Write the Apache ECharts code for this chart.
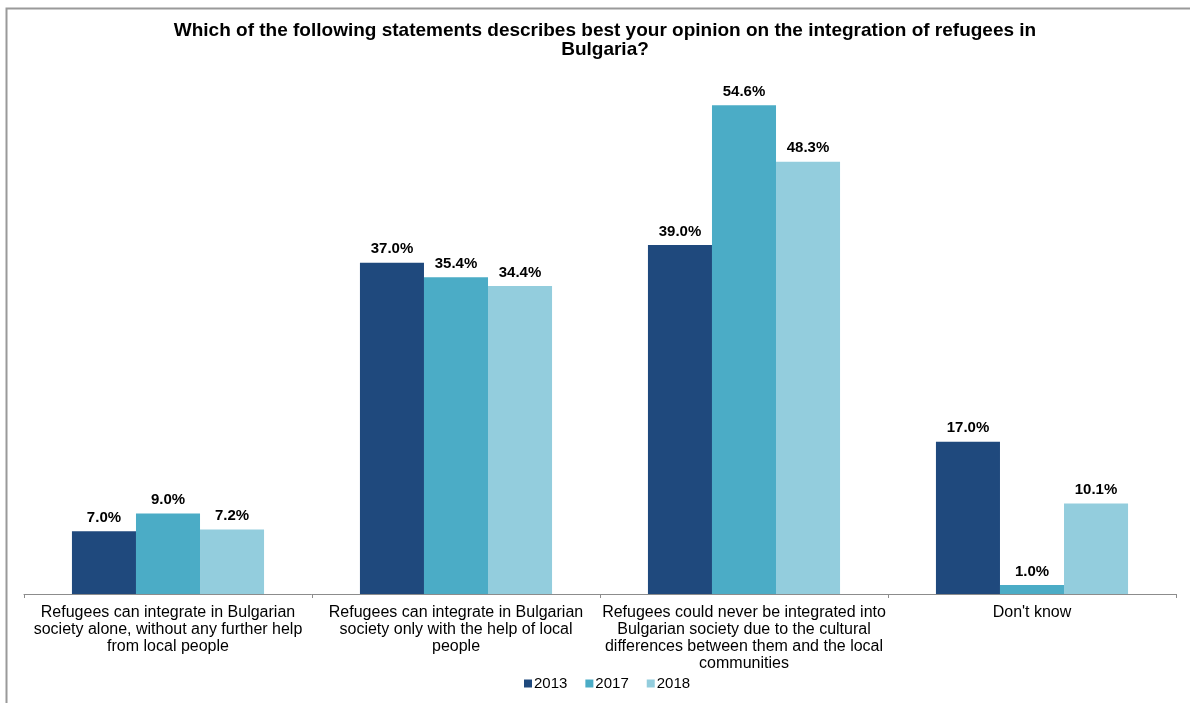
<!DOCTYPE html>
<html>
<head>
<meta charset="utf-8">
<script src="https://cdn.jsdelivr.net/npm/echarts@6/dist/echarts.min.js"></script>
<style>
  html, body { margin: 0; padding: 0; background: #fff; }
  #chart { width: 1190px; height: 703px; }
</style>
</head>
<body>
<div id="chart"></div>
<script>
// categories are pre-wrapped the way the original axis labels break
const categories = [
  'Refugees can integrate in Bulgarian\nsociety alone, without any further help\nfrom local people',
  'Refugees can integrate in Bulgarian\nsociety only with the help of local\npeople',
  'Refugees could never be integrated into\nBulgarian society due to the cultural\ndifferences between them and the local\ncommunities',
  "Don't know"
];
const years = ['2013', '2017', '2018'];
const values2013 = [7.0, 37.0, 39.0, 17.0];
const values2017 = [9.0, 35.4, 54.6, 1.0];
const values2018 = [7.2, 34.4, 48.3, 10.1];

const colors = ['#1f497d', '#4bacc6', '#93cddd'];
const font = 'Arial, "Liberation Sans", sans-serif';

const chart = echarts.init(document.getElementById('chart'));

function makeSeries(name, data, color) {
  return {
    name: name,
    type: 'bar',
    data: data,
    barGap: '0%',
    barCategoryGap: '33.3%',
    itemStyle: { color: color },
    label: {
      show: true,
      position: 'top',
      distance: 6,
      fontFamily: font,
      fontSize: 15,
      fontWeight: 'bold',
      color: '#000',
      formatter: p => p.value.toFixed(1) + '%'
    }
  };
}

const option = {
  animation: false,
  backgroundColor: '#fff',
  title: {
    text: 'Which of the following statements describes best your opinion on the integration of refugees in\nBulgaria?',
    left: 600,
    textAlign: 'center',
    top: 16,
    textStyle: {
      fontFamily: font,
      fontSize: 19,
      fontWeight: 'bold',
      color: '#000',
      lineHeight: 19
    }
  },
  graphic: [{
    type: 'rect',
    shape: { x: 6.5, y: 8.5, width: 1200, height: 720 },
    style: { fill: 'none', stroke: '#9a9a9a', lineWidth: 2 },
    silent: true
  }],
  legend: {
    data: years,
    bottom: 7,
    left: 519,
    icon: 'rect',
    itemWidth: 8,
    itemHeight: 8,
    itemGap: 18,
    textStyle: { fontFamily: font, fontSize: 15, color: '#000', padding: [0, 0, 0, -3] }
  },
  grid: { left: 24, right: 14, top: 57, bottom: 109, containLabel: false },
  xAxis: {
    type: 'category',
    data: categories,
    axisLine: { lineStyle: { color: '#8c8c8c', width: 1 } },
    axisTick: { show: true, length: 4, lineStyle: { color: '#8c8c8c' } },
    axisLabel: {
      interval: 0,
      margin: 10,
      fontFamily: font,
      fontSize: 16,
      lineHeight: 17,
      color: '#000'
    }
  },
  yAxis: {
    type: 'value',
    min: 0,
    max: 60,
    show: false,
    splitLine: { show: false }
  },
  series: [
    makeSeries(years[0], values2013, colors[0]),
    makeSeries(years[1], values2017, colors[1]),
    makeSeries(years[2], values2018, colors[2])
  ]
};

chart.setOption(option);
</script>
</body>
</html>
